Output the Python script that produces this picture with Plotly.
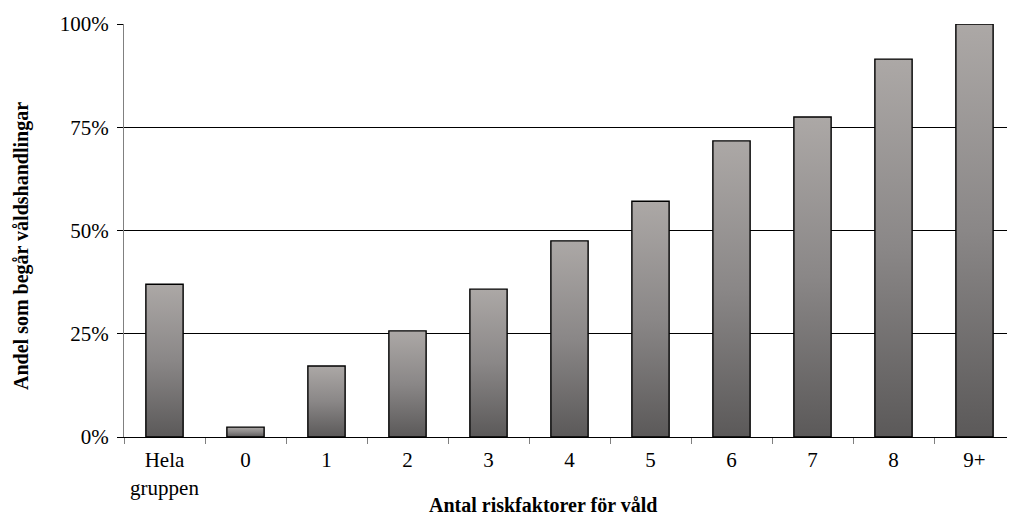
import plotly.graph_objects as go

categories = ["Hela<br>gruppen", "0", "1", "2", "3", "4", "5", "6", "7", "8", "9+"]
values = [37.0, 2.4, 17.2, 25.7, 35.8, 47.5, 57.1, 71.7, 77.5, 91.5, 100.0]
y_ticks = [0, 25, 50, 75, 100]
y_ticklabels = ["0%", "25%", "50%", "75%", "100%"]
x_title = "Antal riskfaktorer för våld"
y_title = "Andel som begår våldshandlingar"

BAR_W = 0.46
font_family = "Liberation Serif, Times New Roman, serif"

fig = go.Figure()
for i, v in enumerate(values):
    x0, x1 = i - BAR_W / 2, i + BAR_W / 2
    fig.add_trace(go.Scatter(
        x=[x0, x1, x1, x0, x0],
        y=[0, 0, v, v, 0],
        mode="lines",
        fill="toself",
        fillgradient=dict(type="vertical",
                          colorscale=[[0, "#5b5959"], [0.5, "#8a8787"], [1, "#aca8a6"]]),
        line=dict(color="black", width=1.4),
        hoverinfo="skip",
        showlegend=False,
    ))

fig.update_layout(
    width=1007, height=512,
    margin=dict(l=116, r=0, t=16, b=83),
    plot_bgcolor="white", paper_bgcolor="white",
    font=dict(family=font_family, size=21, color="black"),
    showlegend=False,
    annotations=[
        dict(text=f"<b>{x_title}</b>", xref="paper", yref="paper", x=0.470, y=0,
             xanchor="center", yanchor="middle", yshift=-68, showarrow=False,
             font=dict(family=font_family, size=20)),
        dict(text=f"<b>{y_title}</b>", xref="paper", yref="paper", x=0, y=0.4625,
             xanchor="center", yanchor="middle", xshift=-102, textangle=-90, showarrow=False,
             font=dict(family=font_family, size=20)),
    ],
)
fig.update_xaxes(
    range=[-0.5, 10.5],
    tickvals=list(range(len(categories))),
    ticktext=categories,
    ticks="", showgrid=False, zeroline=False,
    showline=True, linecolor="black", linewidth=1,
    minor=dict(tick0=-0.5, dtick=1, ticks="outside", ticklen=6, tickcolor="#808080", showgrid=False),
    tickfont=dict(family=font_family, size=21),
    ticklabelstandoff=4,
)
fig.update_yaxes(
    range=[0, 100],
    tickvals=y_ticks, ticktext=y_ticklabels,
    ticks="outside", ticklen=6, tickcolor="black",
    showgrid=True, gridcolor="black", gridwidth=1,
    zeroline=False,
    showline=True, linecolor="#808080", linewidth=1,
    tickfont=dict(family=font_family, size=21),
    ticklabelstandoff=4,
)

fig.write_html("out.html")
